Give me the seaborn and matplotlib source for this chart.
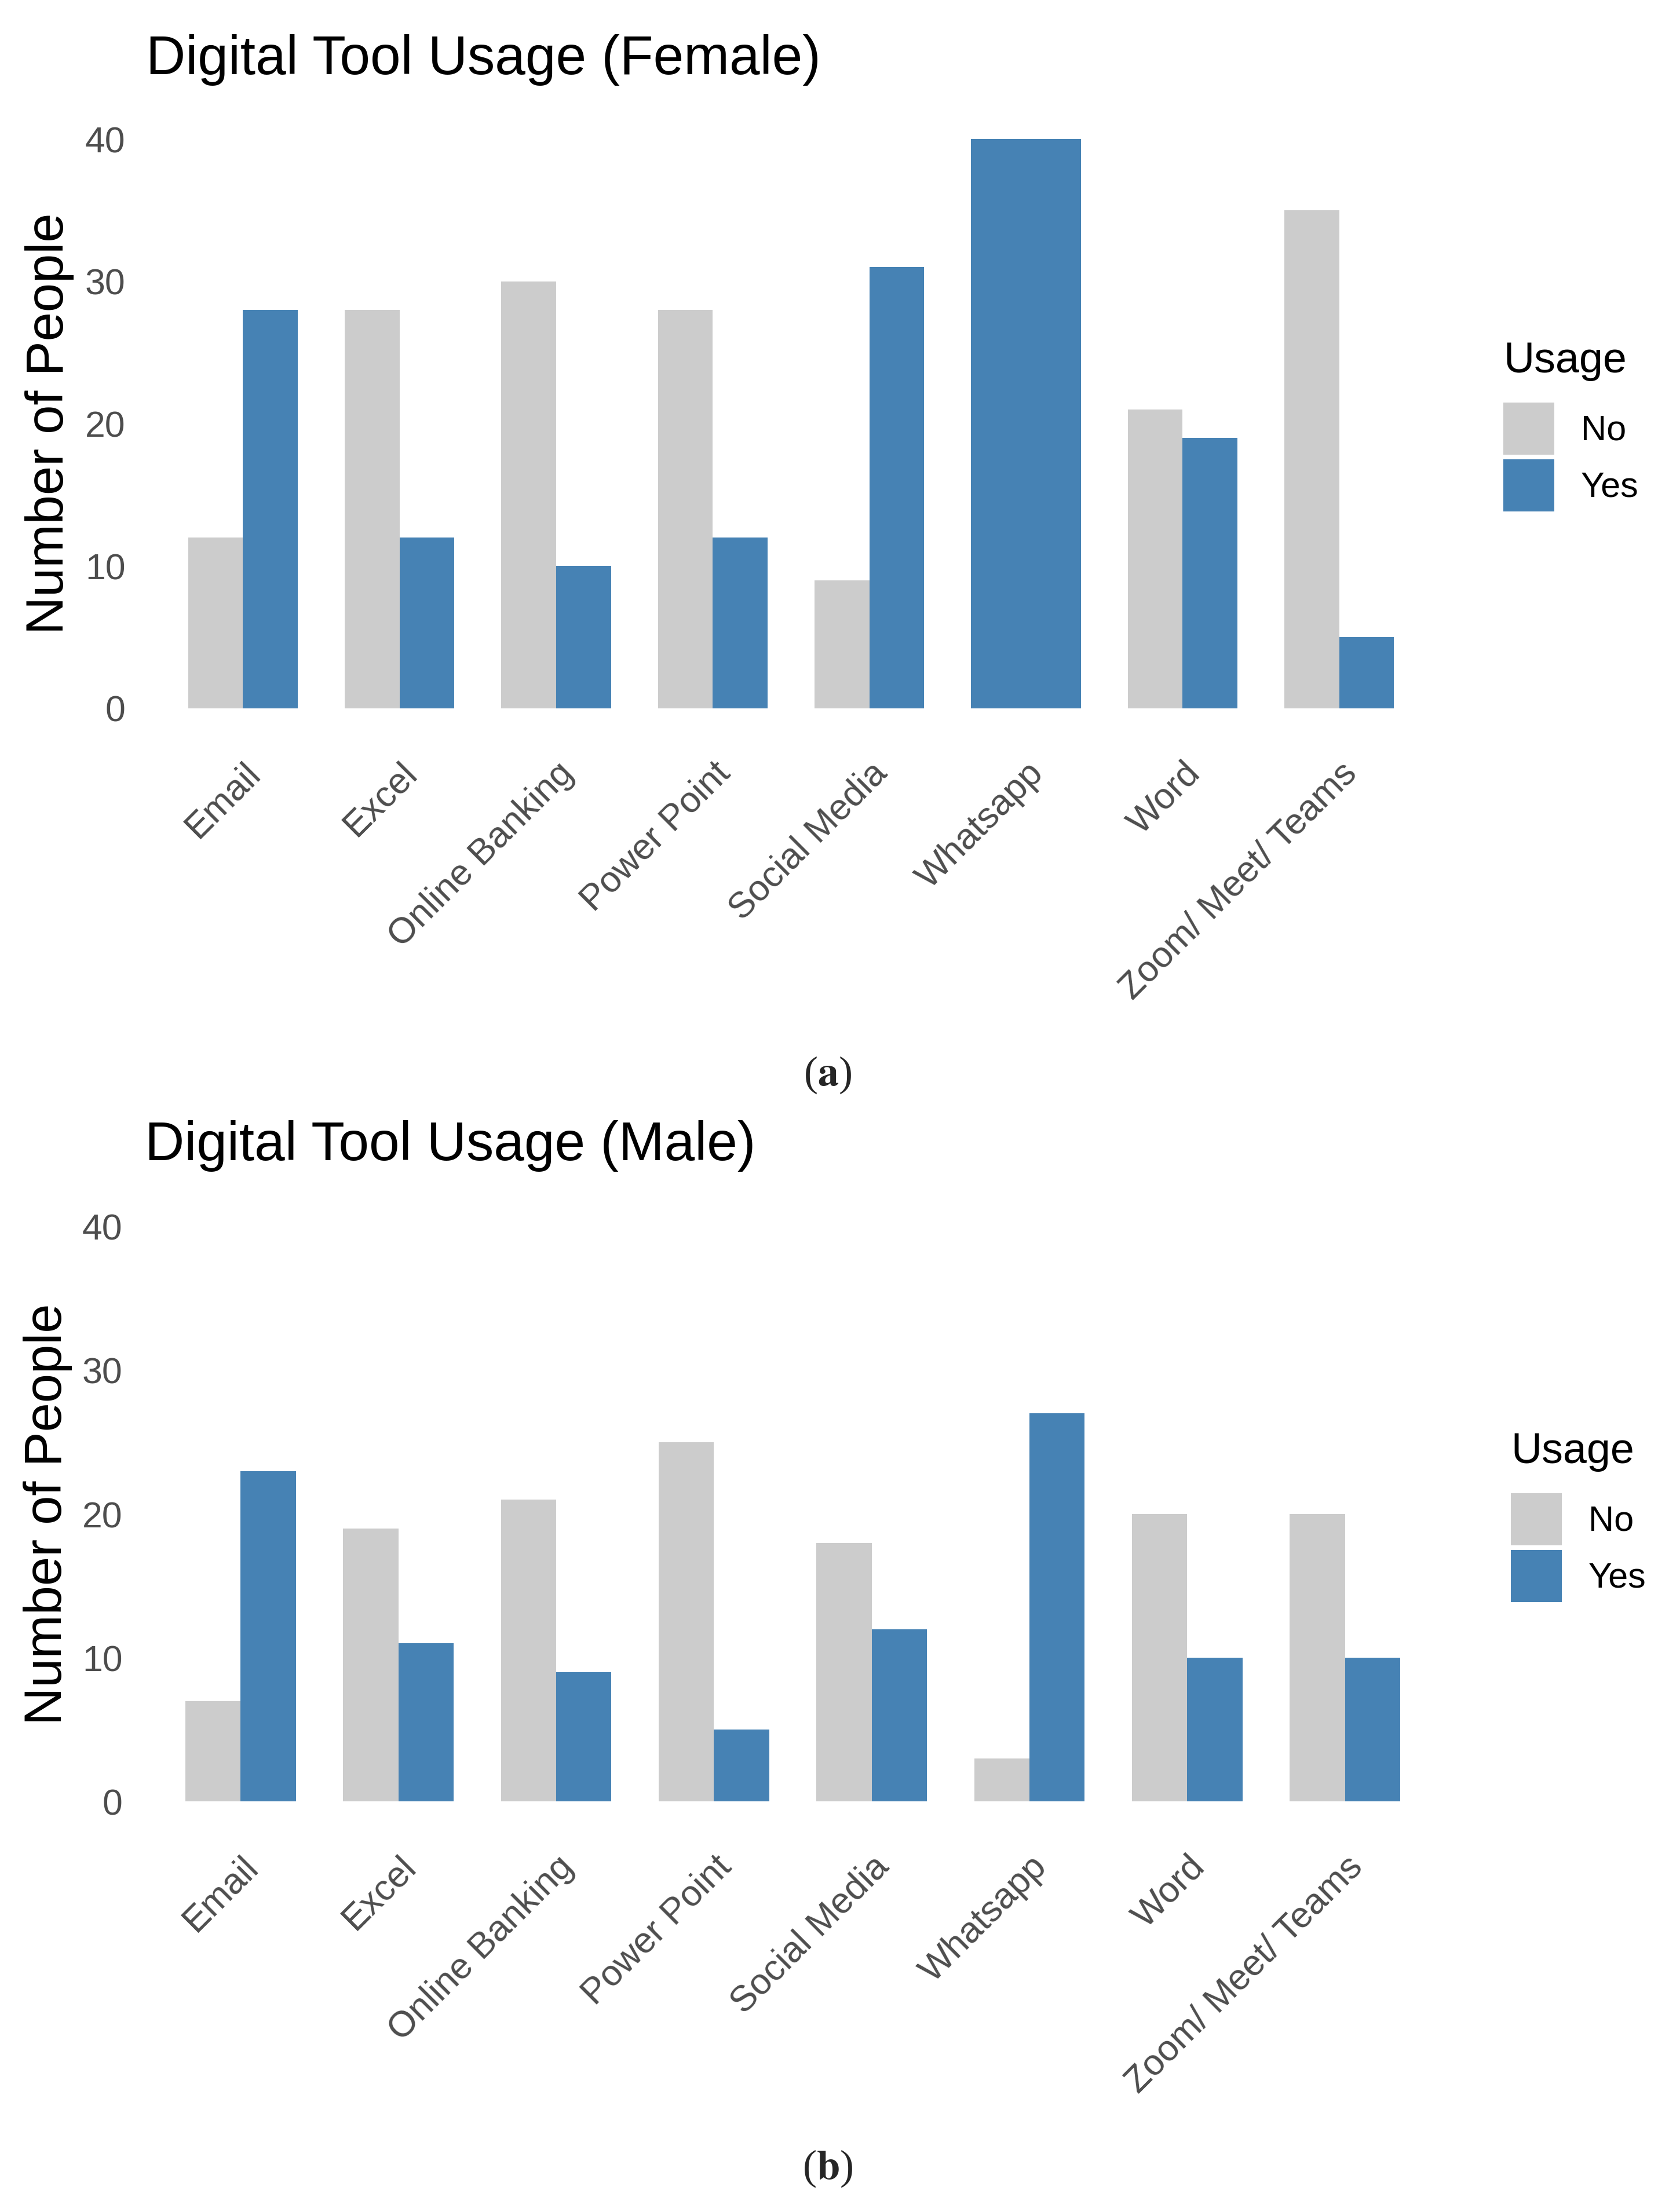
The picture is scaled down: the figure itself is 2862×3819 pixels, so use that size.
import pandas as pd
import seaborn as sns
import matplotlib.pyplot as plt
from matplotlib.patches import Patch
from matplotlib.transforms import ScaledTranslation

# chart data
tools = ["Email", "Excel", "Online Banking", "Power Point", "Social Media",
         "Whatsapp", "Word", "Zoom/ Meet/ Teams"]
female_no = [12, 28, 30, 28, 9, None, 21, 35]
female_yes = [28, 12, 10, 12, 31, 40, 19, 5]
male_no = [7, 19, 21, 25, 18, 3, 20, 20]
male_yes = [23, 11, 9, 5, 12, 27, 10, 10]
usage_levels = ["No", "Yes"]
y_ticks = [0, 10, 20, 30, 40]
palette = {"No": "#CCCCCC", "Yes": "#4682B4"}

W, H = 2862, 3819
DPI = 100

sns.set_theme(style="white")
plt.rcParams["font.family"] = ["Liberation Sans", "DejaVu Sans"]
plt.rcParams["mathtext.fontset"] = "stix"

fig = plt.figure(figsize=(W / DPI, H / DPI), dpi=DPI)


def px_axes(left, right, top, bottom):
    return [left / W, 1 - bottom / H, (right - left) / W, (bottom - top) / H]


def draw_panel(ax, no_vals, yes_vals, title, title_xy, legend_xy, ylab_x):
    df = pd.DataFrame({"Tool": tools, "No": no_vals, "Yes": yes_vals})
    long = df.melt(id_vars="Tool", var_name="Usage", value_name="Count").dropna()
    n_levels = long.groupby("Tool")["Usage"].transform("count")
    paired = long[n_levels == 2]
    single = long[n_levels == 1]

    sns.barplot(data=paired, x="Tool", y="Count", hue="Usage", order=tools,
                hue_order=usage_levels, palette=palette, width=0.7,
                saturation=1, errorbar=None, linewidth=0, legend=False, ax=ax)
    # tools with only one answer get a full-width bar (like ggplot dodge)
    for lvl, grp in single.groupby("Usage"):
        sns.barplot(data=grp, x="Tool", y="Count", order=tools,
                    color=palette[lvl], width=0.7, saturation=1,
                    errorbar=None, linewidth=0, ax=ax)

    ax.set_xlim(-0.6, len(tools) - 0.4)
    ax.set_ylim(-2, 42)
    ax.set_yticks(y_ticks)
    ax.set_yticklabels([str(t) for t in y_ticks])
    ax.set_xticks(range(len(tools)))
    ax.set_xticklabels(tools, rotation=45, ha="right", va="top",
                       rotation_mode="anchor")
    shift = ScaledTranslation(16 / DPI, 0, fig.dpi_scale_trans)
    for lab in ax.get_xticklabels():
        lab.set_transform(lab.get_transform() + shift)
    ax.tick_params(axis="both", length=0, labelsize=45, colors="#4D4D4D")
    ax.tick_params(axis="y", pad=29)
    ax.tick_params(axis="x", pad=24)
    ax.grid(False)
    sns.despine(ax=ax, left=True, bottom=True)

    ax.set_xlabel("")
    ax.set_ylabel("Number of People", fontsize=65, color="black")
    ax.yaxis.set_label_coords(ylab_x, 0.5)

    fig.text(title_xy[0] / W, 1 - title_xy[1] / H, title, fontsize=68,
             color="black", ha="left", va="baseline")

    # legend: title as its own text, keys below it
    lx, ly = legend_xy
    fig.text(lx / W, 1 - ly / H, "Usage", fontsize=53, color="black",
             ha="left", va="baseline")
    handles = [Patch(facecolor=palette[l], edgecolor="none") for l in usage_levels]
    leg = ax.legend(handles, usage_levels, loc="upper left",
                    bbox_to_anchor=(lx / W, 1 - (ly + 52) / H),
                    bbox_transform=fig.transFigure, frameon=False,
                    fontsize=44, borderpad=0, borderaxespad=0,
                    handlelength=1.44, handleheight=1.89,
                    labelspacing=0.13, handletextpad=0.75)
    for t in leg.get_texts():
        t.set_color("black")


ax_f = fig.add_axes(px_axes(257, 2474, 191, 1272))
draw_panel(ax_f, female_no, female_yes, "Digital Tool Usage (Female)",
           (252, 128), (2595, 643), -0.058)

ax_m = fig.add_axes(px_axes(252, 2485, 2068, 3160))
draw_panel(ax_m, male_no, male_yes, "Digital Tool Usage (Male)",
           (250, 2003), (2608, 2526), -0.057)

fig.text(1429 / W, 1 - 1856 / H, r"($\mathbf{a}$)", fontsize=52,
         family=["Liberation Serif", "DejaVu Serif"], ha="center", va="center")
fig.text(1429 / W, 1 - 3744 / H, r"($\mathbf{b}$)", fontsize=52,
         family=["Liberation Serif", "DejaVu Serif"], ha="center", va="center")

fig.savefig("out.png", dpi=DPI, facecolor="white")
